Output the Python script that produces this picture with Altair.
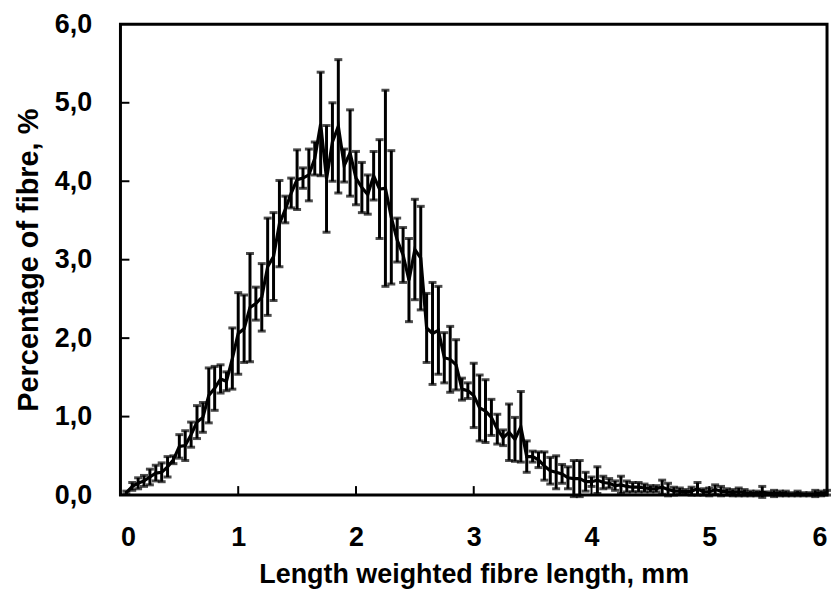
import altair as alt
import pandas as pd

# Fibre length classes (mm)
length_mm = [
    0.05, 0.10, 0.15, 0.20, 0.25, 0.30, 0.35, 0.40, 0.45, 0.50,
    0.55, 0.60, 0.65, 0.70, 0.75, 0.80, 0.85, 0.90, 0.95, 1.00,
    1.05, 1.10, 1.15, 1.20, 1.25, 1.30, 1.35, 1.40, 1.45, 1.50,
    1.55, 1.60, 1.65, 1.70, 1.75, 1.80, 1.85, 1.90, 1.95, 2.00,
    2.05, 2.10, 2.15, 2.20, 2.25, 2.30, 2.35, 2.40, 2.45, 2.50,
    2.55, 2.60, 2.65, 2.70, 2.75, 2.80, 2.85, 2.90, 2.95, 3.00,
    3.05, 3.10, 3.15, 3.20, 3.25, 3.30, 3.35, 3.40, 3.45, 3.50,
    3.55, 3.60, 3.65, 3.70, 3.75, 3.80, 3.85, 3.90, 3.95, 4.00,
    4.05, 4.10, 4.15, 4.20, 4.25, 4.30, 4.35, 4.40, 4.45, 4.50,
    4.55, 4.60, 4.65, 4.70, 4.75, 4.80, 4.85, 4.90, 4.95, 5.00,
    5.05, 5.10, 5.15, 5.20, 5.25, 5.30, 5.35, 5.40, 5.45, 5.50,
    5.55, 5.60, 5.65, 5.70, 5.75, 5.80, 5.85, 5.90, 5.95, 6.00,
]

# Mean percentage of fibre (%)
mean_pct = [
    0.03, 0.11, 0.15, 0.18, 0.23, 0.28, 0.29, 0.36, 0.45, 0.62,
    0.63, 0.77, 0.93, 0.99, 1.27, 1.36, 1.48, 1.45, 1.74, 2.06,
    2.12, 2.39, 2.44, 2.52, 2.91, 3.04, 3.46, 3.64, 3.85, 4.02,
    4.04, 4.08, 4.29, 4.73, 4.03, 4.50, 4.70, 4.20, 4.36, 4.04,
    3.92, 3.83, 4.07, 3.90, 3.91, 3.54, 3.25, 3.06, 2.74, 3.13,
    3.02, 2.13, 2.06, 2.10, 1.75, 1.73, 1.66, 1.35, 1.33, 1.27,
    1.11, 1.07, 0.99, 0.84, 0.73, 0.80, 0.71, 0.87, 0.49, 0.49,
    0.45, 0.37, 0.31, 0.29, 0.27, 0.22, 0.21, 0.21, 0.17, 0.17,
    0.19, 0.16, 0.15, 0.12, 0.13, 0.11, 0.10, 0.10, 0.09, 0.08,
    0.08, 0.10, 0.07, 0.05, 0.05, 0.04, 0.05, 0.08, 0.04, 0.04,
    0.07, 0.05, 0.04, 0.03, 0.04, 0.03, 0.02, 0.02, 0.04, 0.02,
    0.02, 0.02, 0.02, 0.01, 0.02, 0.01, 0.01, 0.02, 0.02, 0.03,
]

# Error (± one standard deviation, %)
err_pct = [
    0.02, 0.05, 0.07, 0.07, 0.10, 0.10, 0.12, 0.13, 0.05, 0.15,
    0.19, 0.16, 0.21, 0.19, 0.35, 0.28, 0.18, 0.12, 0.39, 0.52,
    0.43, 0.69, 0.21, 0.43, 0.62, 0.56, 0.55, 0.17, 0.19, 0.38,
    0.13, 0.33, 0.21, 0.66, 0.68, 0.50, 0.85, 0.21, 0.55, 0.34,
    0.32, 0.25, 0.31, 0.63, 1.25, 0.85, 0.28, 0.35, 0.53, 0.64,
    0.66, 0.44, 0.65, 0.56, 0.32, 0.42, 0.32, 0.14, 0.10, 0.41,
    0.42, 0.40, 0.23, 0.19, 0.10, 0.36, 0.28, 0.45, 0.20, 0.07,
    0.10, 0.18, 0.17, 0.21, 0.12, 0.14, 0.23, 0.23, 0.12, 0.06,
    0.17, 0.08, 0.06, 0.06, 0.11, 0.07, 0.06, 0.06, 0.05, 0.04,
    0.04, 0.09, 0.08, 0.05, 0.04, 0.03, 0.05, 0.08, 0.04, 0.05,
    0.06, 0.06, 0.04, 0.04, 0.05, 0.04, 0.03, 0.03, 0.07, 0.02,
    0.04, 0.03, 0.03, 0.02, 0.03, 0.02, 0.02, 0.04, 0.03, 0.03,
]

x_ticks = [0, 1, 2, 3, 4, 5, 6]
y_ticks = [0, 1, 2, 3, 4, 5, 6]
inner_x_ticks = [1, 2, 3, 4, 5]
inner_y_ticks = [1, 2, 3, 4, 5]

df = pd.DataFrame({"x": length_mm, "mean": mean_pct, "err": err_pct})
df["lo"] = df["mean"] - df["err"]
df["hi"] = df["mean"] + df["err"]

FONT = "Liberation Sans"
x_scale = alt.Scale(domain=[0, 6], nice=False, zero=False)
y_scale = alt.Scale(domain=[0, 6], nice=False, zero=False)

x_axis = alt.Axis(
    values=x_ticks, format="d", title="Length weighted fibre length, mm",
    grid=False, domain=False, ticks=False, tickSize=0,
    labelFont=FONT, labelFontSize=27, labelFontWeight="bold", labelColor="black",
    labelBaseline="alphabetic", labelPadding=51,
    titleFont=FONT, titleFontSize=27, titleFontWeight="bold", titleColor="black",
    titleBaseline="alphabetic", titleY=88,
)
y_axis = alt.Axis(
    values=y_ticks, title="Percentage of fibre, %",
    labelExpr="replace(format(datum.value, '.1f'), '.', ',')",
    grid=False, domain=False, ticks=False, tickSize=0,
    labelFont=FONT, labelFontSize=27, labelFontWeight="bold", labelColor="black",
    labelPadding=29,
    titleFont=FONT, titleFontSize=29, titleFontWeight="bold", titleColor="black",
    titleBaseline="alphabetic", titleX=-83,
)


def X(field):
    return alt.X(f"{field}:Q", scale=x_scale, axis=x_axis)


def Y(field):
    return alt.Y(f"{field}:Q", scale=y_scale, axis=y_axis)


bars = alt.Chart(df).mark_rule(color="black", strokeWidth=3).encode(
    x=X("x"), y=Y("lo"), y2="hi"
)
cap_lo = alt.Chart(df).mark_tick(color="black", orient="horizontal", size=8, thickness=3).encode(
    x=X("x"), y=Y("lo")
)
cap_hi = alt.Chart(df).mark_tick(color="black", orient="horizontal", size=8, thickness=3).encode(
    x=X("x"), y=Y("hi")
)
line = alt.Chart(df).mark_line(color="black", strokeWidth=3.2).encode(
    x=X("x"), y=Y("mean")
)

xt = alt.Chart(pd.DataFrame({"t": inner_x_ticks})).mark_rule(color="black", strokeWidth=2).encode(
    x=X("t"), y=alt.value(473), y2=alt.value(464)
)
yt = alt.Chart(pd.DataFrame({"t": inner_y_ticks})).mark_rule(color="black", strokeWidth=2).encode(
    y=Y("t"), x=alt.value(0), x2=alt.value(9)
)

chart = alt.layer(bars, cap_lo, cap_hi, line, xt, yt).properties(
    width=710,
    height=473,
    autosize=alt.AutoSizeParams(type="none"),
    padding={"left": 113, "top": 15, "right": 5, "bottom": 94},
    background="white",
).configure_view(stroke="black", strokeWidth=3)

chart.save("out.html", embed_options={"renderer": "svg", "actions": False})
